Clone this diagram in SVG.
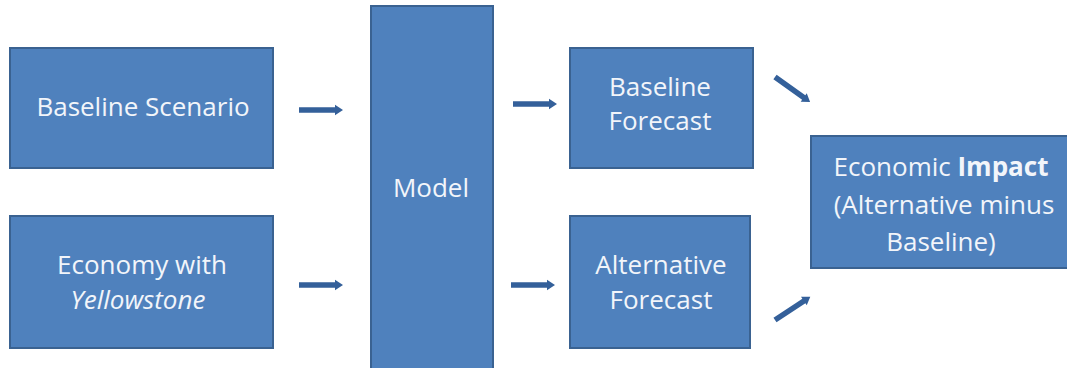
<svg xmlns="http://www.w3.org/2000/svg" xmlns:xlink="http://www.w3.org/1999/xlink" width="1067" height="368" viewBox="0 0 1067 368">
<style>
.box{fill:#4F81BD;stroke:#3A6291;stroke-width:2}
.t{font-family:"Open Sans","Liberation Sans",sans-serif;font-size:26px;fill:#F2F5FA;text-anchor:middle}
.arr{fill:#34609A}
</style>
<defs>
<path id="arr" d="M0,-2.8 H36 V-5.2 L44,0 L36,5.2 V2.8 H0 Z"/>
</defs>
<rect width="1067" height="368" fill="#FFFFFF"/>
<g id="baseline-scenario">
<rect class="box" x="10" y="48" width="263" height="120"/>
<text class="t" x="143" y="116">Baseline Scenario</text>
</g>
<g id="economy-yellowstone">
<rect class="box" x="10" y="216" width="263" height="132"/>
<text class="t" x="142" y="274">Economy with</text>
<text class="t" x="138" y="309" font-style="italic">Yellowstone</text>
</g>
<g id="model">
<rect class="box" x="371" y="6" width="122" height="372"/>
<text class="t" x="431" y="197">Model</text>
</g>
<g id="baseline-forecast">
<rect class="box" x="570" y="48" width="183" height="120"/>
<text class="t" x="660" y="96">Baseline</text>
<text class="t" x="660" y="130">Forecast</text>
</g>
<g id="alternative-forecast">
<rect class="box" x="570" y="216" width="180" height="132"/>
<text class="t" x="661" y="274">Alternative</text>
<text class="t" x="661" y="309">Forecast</text>
</g>
<g id="economic-impact">
<rect class="box" x="811" y="136" width="258" height="132"/>
<text class="t" x="941" y="176">Economic <tspan font-weight="bold">Impact</tspan></text>
<text class="t" x="944" y="214">(Alternative minus</text>
<text class="t" x="941" y="251">Baseline)</text>
</g>
<g id="connectors" class="arr">
<use xlink:href="#arr" transform="translate(299,110)"/>
<use xlink:href="#arr" transform="translate(299,285)"/>
<use xlink:href="#arr" transform="translate(513,104)"/>
<use xlink:href="#arr" transform="translate(511,285)"/>
<use xlink:href="#arr" transform="translate(775,77) rotate(35.5) scale(0.98,1)"/>
<use xlink:href="#arr" transform="translate(775,320) rotate(-33.3) scale(0.96,1)"/>
</g>
</svg>
